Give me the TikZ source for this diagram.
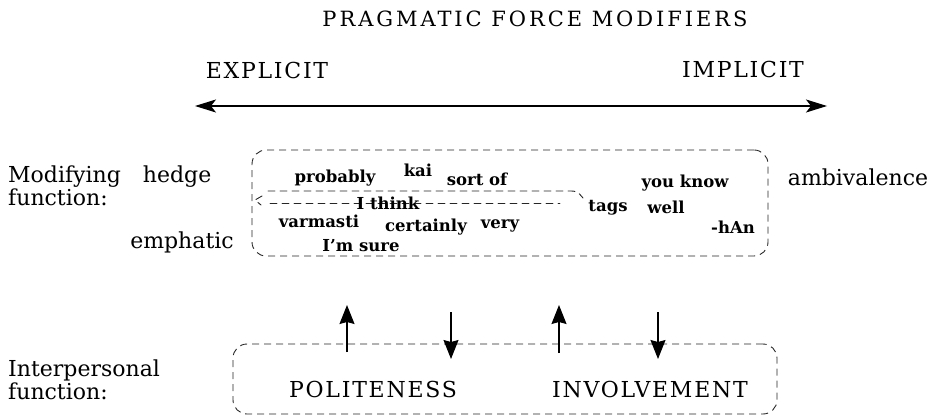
\documentclass[tikz,border=0pt]{standalone}
\usepackage{fontspec}
\setmainfont{DejaVu Serif}
\newfontfamily\pfcapsfont[LetterSpace=8]{DejaVu Serif}
\newfontfamily\pftitlefont[LetterSpace=14]{DejaVu Serif}
\usepackage{tikz}
\usetikzlibrary{arrows.meta}
\tikzset{
  pfbox/.style={draw=black!85, line width=0.9pt, dash pattern=on 7pt off 5pt, rounded corners=14pt, inner sep=0pt},
  pfline/.style={draw=black!85, line width=0.9pt, dash pattern=on 7pt off 5pt, line cap=round},
  pfaxis/.style={draw=black, line width=1.1pt, {Stealth[length=21pt,width=13pt,inset=5pt]}-{Stealth[length=21pt,width=13pt,inset=5pt]}},
  pfarrow/.style={draw=black, line width=1.1pt, -{Stealth[length=19pt,width=15pt,inset=2pt]}},
  pfword/.style={font=\bfseries\fontsize{16.5}{18}\selectfont, inner sep=0pt, anchor=base},
  pflabel/.style={font=\fontsize{22}{20}\selectfont, inner sep=0pt, align=left, anchor=north west},
  pfside/.style={font=\fontsize{22}{24}\selectfont, inner sep=0pt, anchor=base},
  pfcaps/.style={font=\pfcapsfont\fontsize{22}{24}\selectfont, inner sep=0pt, anchor=base},
}

\begin{document}
\begin{tikzpicture}[x=1pt, y=-1pt]
\useasboundingbox (0,0) rectangle (934,417);
% headings
\node[pfcaps, font=\pftitlefont\fontsize{21}{24}\selectfont] (title) at (535,27) {PRAGMATIC FORCE MODIFIERS};
\node[pfcaps] (explicit) at (267,79) {EXPLICIT};
\node[pfcaps] (implicit) at (743,78) {IMPLICIT};
\coordinate (axisL) at (195,106);
\coordinate (axisR) at (827,106);
\draw[pfaxis] (axisL) -- (axisR);

% modifying hedge function
\node[pflabel] (hedgelabel) at (8,166) {Modifying\hskip 22pt hedge\\function:};
\node[pfbox, minimum width=516pt, minimum height=106pt] (hedgebox) at (510,203) {};
\draw[pfline] (268,191) -- (568,191) .. controls (577,191) .. (583,198);
\draw[pfline] (262,196) -- (255,200) -- (261,205);
\draw[pfline] (270,203) -- (560,203);
\node[pfword] (probably) at (335,182) {probably};
\node[pfword] (kai) at (418,176) {kai};
\node[pfword] (sortof) at (477,185) {sort of};
\node[pfword] (ithink) at (388,209) {I think};
\node[pfword] (varmasti) at (319,227) {varmasti};
\node[pfword] (certainly) at (426,231) {certainly};
\node[pfword] (very) at (500,228) {very};
\node[pfword] (imsure) at (361,251) {I'm sure};
\node[pfword] (tags) at (608,211) {tags};
\node[pfword] (youknow) at (685,187) {you know};
\node[pfword] (well) at (666,213) {well};
\node[pfword] (han) at (733,233) {-hAn};
\node[pfside] (emphatic) at (182,248) {emphatic};
\node[pfside] (ambivalence) at (858,185) {ambivalence};

% interpersonal function
\node[pflabel] (funclabel) at (8,360) {Interpersonal\\function:};
\node[pfbox, minimum width=544pt, minimum height=70pt] (funcbox) at (505,379) {};
\node[pfcaps] (politeness) at (373,397) {POLITENESS};
\node[pfcaps] (involvement) at (650,397) {INVOLVEMENT};
\coordinate (upA0) at (347,352);  \coordinate (upA1) at (347,305);
\coordinate (dnA0) at (451,312);  \coordinate (dnA1) at (451,359);
\coordinate (upB0) at (559,353);  \coordinate (upB1) at (559,305);
\coordinate (dnB0) at (658,312);  \coordinate (dnB1) at (658,359);
\draw[pfarrow] (upA0) -- (upA1);
\draw[pfarrow] (dnA0) -- (dnA1);
\draw[pfarrow] (upB0) -- (upB1);
\draw[pfarrow] (dnB0) -- (dnB1);
\end{tikzpicture}
\end{document}
